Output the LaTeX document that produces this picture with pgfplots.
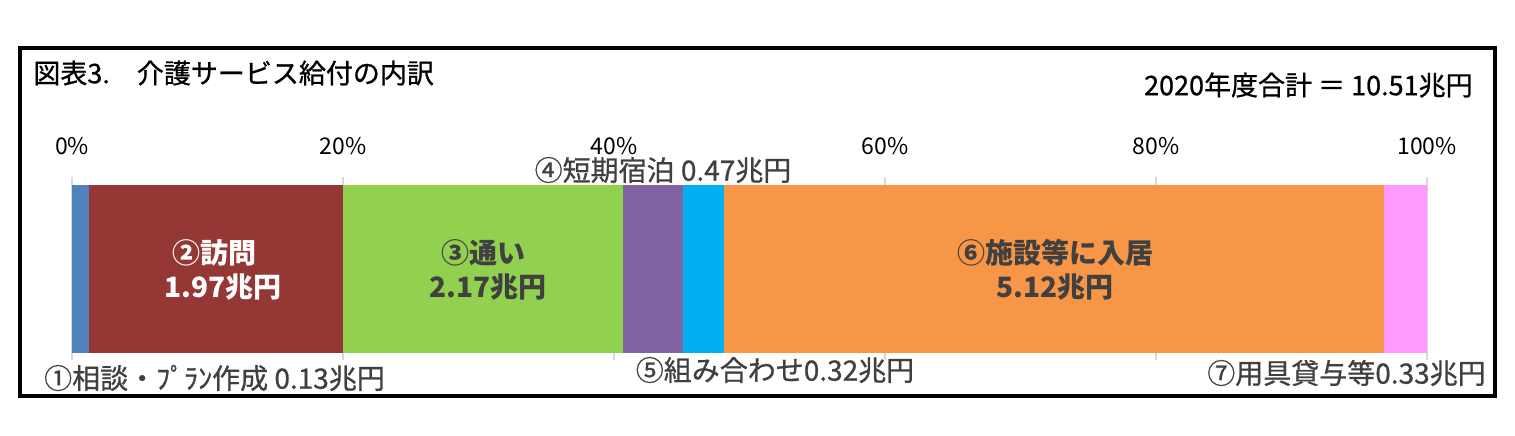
\documentclass[border=0pt]{standalone}
\usepackage{pgfplots}
\pgfplotsset{compat=1.18}
\usepackage{fontspec}
\setmainfont{Noto Sans CJK JP}
\newfontfamily\medfont{Noto Sans CJK JP}[FakeBold=0.8]

\definecolor{c1}{HTML}{4F81BD}
\definecolor{c2}{HTML}{953735}
\definecolor{c3}{HTML}{92D050}
\definecolor{c4}{HTML}{8064A2}
\definecolor{c5}{HTML}{00B0F0}
\definecolor{c6}{HTML}{F79646}
\definecolor{c7}{HTML}{FF99FF}
\definecolor{lbl}{HTML}{404040}
\definecolor{grd}{HTML}{D9D9D9}

\newcommand{\lab}{\fontsize{14}{16}\selectfont}

\begin{document}
\begin{tikzpicture}[x=0.5pt,y=0.5pt]
\useasboundingbox (0,0) rectangle (1515,435);
\fill[white] (0,0) rectangle (1515,435);
\draw[black,line width=2pt] (20,39) rectangle (1495,387);

\node[anchor=west,inner sep=0pt,font=\fontsize{13.5}{15}\selectfont\medfont] at (33,362)
  {図表3.　介護サービス給付の内訳};
\node[anchor=east,inner sep=0pt,font=\fontsize{13.5}{15}\selectfont\medfont] at (1473,350)
  {2020年度合計 ＝ 10.51兆円};

\begin{axis}[
  at={(36pt,37.5pt)}, anchor=south west,
  scale only axis, width=677.5pt, height=91.5pt,
  xmin=0, xmax=10.51, ymin=-1, ymax=1,
  xbar stacked, bar width=84pt,
  axis line style={draw=none},
  ytick=\empty,
  xtick={0,2.102,4.204,6.306,8.408,10.51},
  xticklabels={0\%,20\%,40\%,60\%,80\%,100\%},
  xticklabel pos=upper,
  tick style={draw=none},
  xticklabel style={font=\fontsize{11.5}{13}\selectfont, anchor=south, inner sep=0pt, yshift=11pt},
  xmajorgrids=true,
  grid style={grd, line width=1pt},
  clip=false,
]
\addplot[fill=c1, draw=none] coordinates {(0.13,0)};
\addplot[fill=c2, draw=none] coordinates {(1.97,0)};
\addplot[fill=c3, draw=none] coordinates {(2.17,0)};
\addplot[fill=c4, draw=none] coordinates {(0.47,0)};
\addplot[fill=c5, draw=none] coordinates {(0.32,0)};
\addplot[fill=c6, draw=none] coordinates {(5.12,0)};
\addplot[fill=c7, draw=none] coordinates {(0.33,0)};

\coordinate (a2) at (axis cs:1.109,0.169);
\coordinate (b2) at (axis cs:1.171,-0.202);
\coordinate (a3) at (axis cs:3.188,0.169);
\coordinate (b3) at (axis cs:3.227,-0.202);
\coordinate (a6) at (axis cs:7.625,0.169);
\coordinate (b6) at (axis cs:7.625,-0.202);
\end{axis}

\node[white, font=\lab\bfseries] at (a2) {②訪問};
\node[white, font=\lab\bfseries] at (b2) {1.97兆円};
\node[lbl, font=\lab\bfseries] at (a3) {③通い};
\node[lbl, font=\lab\bfseries] at (b3) {2.17兆円};
\node[lbl, font=\lab\bfseries] at (a6) {⑥施設等に入居};
\node[lbl, font=\lab\bfseries] at (b6) {5.12兆円};

\node[lbl, font=\lab\medfont] at (663,265) {④短期宿泊 0.47兆円};
\node[lbl, font=\lab\medfont] at (775,65) {⑤組み合わせ0.32兆円};
\node[lbl, font=\lab\medfont] at (214.5,57) {①相談・ﾌﾟﾗﾝ作成 0.13兆円};
\node[lbl, font=\lab\medfont] at (1346.5,62) {⑦用具貸与等0.33兆円};
\end{tikzpicture}
\end{document}
